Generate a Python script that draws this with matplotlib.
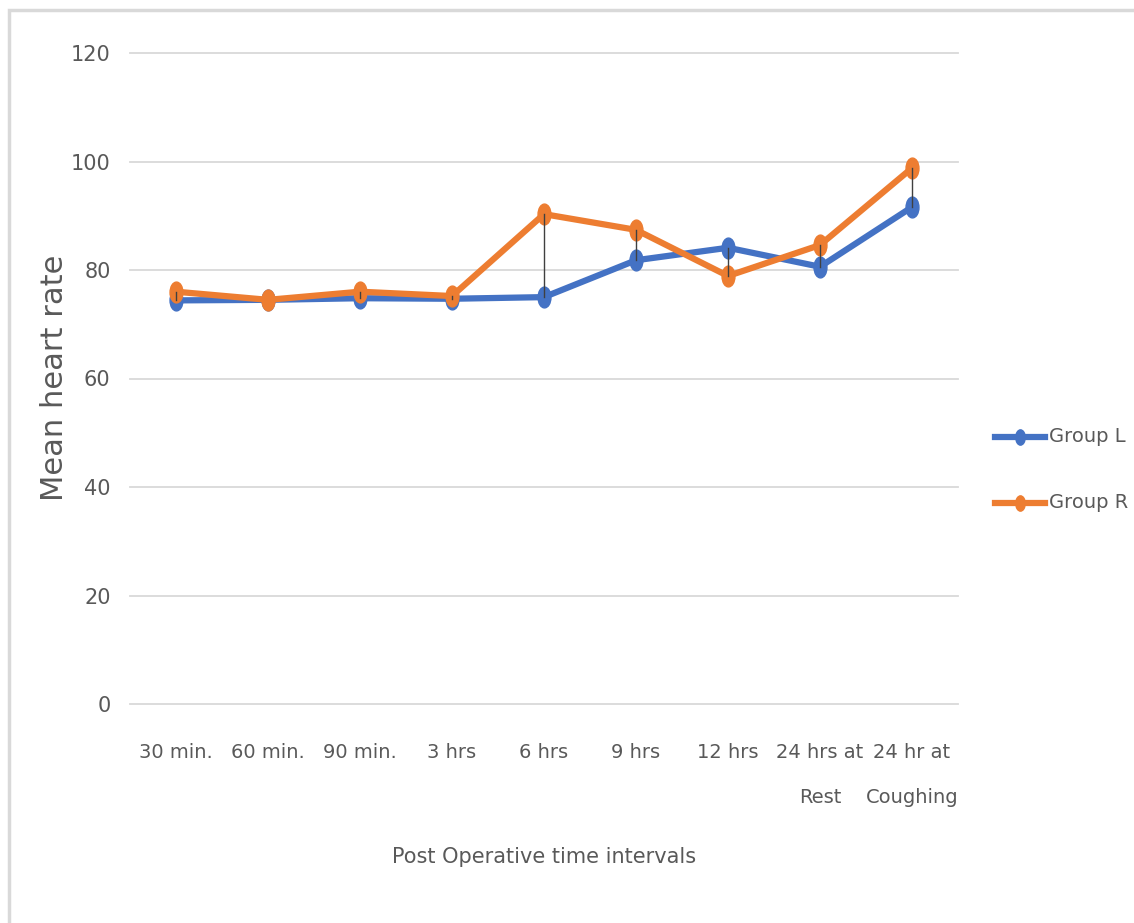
import matplotlib
matplotlib.use("Agg")
import matplotlib.pyplot as plt
from matplotlib.path import Path
from matplotlib.lines import Line2D
from matplotlib.patches import Rectangle
import numpy as np

# Data
categories = ["30 min.", "60 min.", "90 min.", "3 hrs", "6 hrs", "9 hrs", "12 hrs",
              "24 hrs at\nRest", "24 hr at\nCoughing"]
group_l = [74.4, 74.5, 74.8, 74.7, 75.0, 81.8, 84.1, 80.6, 91.6]
group_r = [76.0, 74.5, 76.0, 75.2, 90.3, 87.4, 78.9, 84.6, 98.8]
series_names = ["Group L", "Group R"]
y_ticks = [0, 20, 40, 60, 80, 100, 120]

BLUE = "#4472C4"
ORANGE = "#ED7D31"
TEXT = "#595959"
GRID = "#D9D9D9"
narrow = ["DejaVu Sans Condensed", "DejaVu Sans"]

# Tall elliptical marker
circ = Path.unit_circle()
ellipse = Path(circ.vertices * np.array([0.62, 1.0]), circ.codes)

fig = plt.figure(figsize=(11.34, 9.23), dpi=100)
fig.patch.set_facecolor("white")

# Chart-area border (top and left edges visible)
fig.patches.append(Rectangle((9 / 1134, -0.05), 1.2, 1 - 10 / 923 + 0.05,
                             transform=fig.transFigure, fill=False,
                             edgecolor=GRID, linewidth=2.5, zorder=0))

ax = fig.add_axes([130 / 1134, 1 - 704 / 923, 828 / 1134, 651 / 923])
x = np.arange(len(categories))

# High-low connector lines between the two groups
for xi, a, b in zip(x, group_l, group_r):
    ax.plot([xi, xi], [min(a, b), max(a, b)], color="#404040", lw=1.0, zorder=5)

ax.plot(x, group_l, color=BLUE, lw=4.5, marker=ellipse, ms=15,
        markeredgecolor=BLUE, markerfacecolor=BLUE, zorder=3, solid_joinstyle="round")
ax.plot(x, group_r, color=ORANGE, lw=4.5, marker=ellipse, ms=15,
        markeredgecolor=ORANGE, markerfacecolor=ORANGE, zorder=4, solid_joinstyle="round")

ax.set_xlim(-0.5, len(categories) - 0.5)
ax.set_ylim(0, 120)
ax.set_yticks(y_ticks)
ax.set_xticks(x)
ax.set_xticklabels(categories, family=narrow, fontsize=14, color=TEXT,
                   linespacing=2.75, va="top")
ax.set_yticklabels([str(v) for v in y_ticks], family=narrow, fontsize=15, color=TEXT)
ax.tick_params(axis="both", length=0)
ax.tick_params(axis="y", pad=14)
ax.tick_params(axis="x", pad=28)
ax.grid(axis="y", color=GRID, lw=1.3)
for gl in ax.get_ygridlines():
    gl.set_clip_on(False)
ax.set_axisbelow(True)
for s in ax.spines.values():
    s.set_visible(False)

ax.set_xlabel("Post Operative time intervals", family=narrow, fontsize=15,
              color=TEXT, labelpad=29)
fig.text(55 / 1134, 1 - 378 / 923, "Mean heart rate", rotation=90, ha="center",
         va="center", fontsize=22, color=TEXT, family="DejaVu Sans")

# Legend drawn in figure coordinates
for name, col, yp in zip(series_names, [BLUE, ORANGE], [437, 503]):
    yf = 1 - yp / 923
    fig.add_artist(Line2D([995 / 1134, 1045 / 1134], [yf, yf], color=col, lw=4.5,
                          transform=fig.transFigure))
    fig.add_artist(Line2D([1020 / 1134], [yf], color=col, marker=ellipse, ms=11,
                          markeredgecolor=col, transform=fig.transFigure))
    fig.text(1049 / 1134, yf, name, ha="left", va="center", family=narrow,
             fontsize=14, color=TEXT)

fig.savefig("out.png", dpi=100, facecolor="white")
